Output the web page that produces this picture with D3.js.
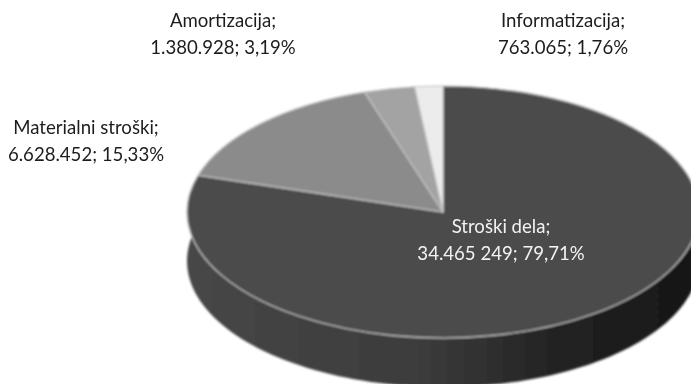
<!DOCTYPE html>
<html><head><meta charset="utf-8">
<script src="https://cdn.jsdelivr.net/npm/d3@7/dist/d3.min.js"></script>
<style>html,body{margin:0;background:#fff}svg{display:block}text{font-family:Lato,"Open Sans",sans-serif;font-size:18.6px}</style>
</head><body><svg width="691" height="384"></svg>
<script>
const categories = ["Stroški dela", "Materialni stroški", "Amortizacija", "Informatizacija"];
const values = [34465249, 6628452, 1380928, 763065];
const labelLine2 = ["34.465 249; 79,71%", "6.628.452; 15,33%", "1.380.928; 3,19%", "763.065; 1,76%"];
const fills = ["#4c4c4c", "#8b8b8b", "#a3a3a3", "#ececec"];
const textColors = ["#f2f2f2", "#1c1c1c", "#1c1c1c", "#1c1c1c"];
const labelAnchors = [[501, 233], [86, 133.5], [223, 27], [563, 27]];

const svg = d3.select("svg");
const cx = 443, cy = 212, rx = 256, ry = 126, depth = 49;
const defs = svg.append("defs");
defs.append("filter").attr("id","soft").append("feGaussianBlur").attr("stdDeviation",0.8);
defs.append("filter").attr("id","softText").append("feGaussianBlur").attr("stdDeviation",0.45);
const grad = defs.append("linearGradient").attr("id","side");
grad.append("stop").attr("offset","0").attr("stop-color","#474747");
grad.append("stop").attr("offset","0.45").attr("stop-color","#3c3c3c");
grad.append("stop").attr("offset","0.72").attr("stop-color","#232323");
grad.append("stop").attr("offset","1").attr("stop-color","#161616");

const pie = d3.pie().sort(null)(values);
const root = svg.append("g").attr("filter","url(#soft)");
const px = a => cx + rx * Math.sin(a), py = a => cy - ry * Math.cos(a);

// side wall
const side = d3.scaleLinear().domain([0,100]).range([Math.PI/2, pie[0].endAngle]);
const steps = d3.range(0,101).map(side);
const wall = d3.area().x(a=>px(a)).y0(a=>py(a)).y1(a=>py(a)+depth);
root.append("path").attr("d",wall(steps)).attr("fill","url(#side)");

// top face
const arc = d3.arc().innerRadius(0).outerRadius(rx);
const face = root.append("g").attr("transform",`translate(${cx},${cy}) scale(1,${ry/rx})`);
face.selectAll("path").data(pie).join("path")
  .attr("d",arc).attr("fill",(d,i)=>fills[i])
  .attr("stroke","#c4c4c4").attr("stroke-width",1.2).attr("vector-effect","non-scaling-stroke");

// labels
const lab = svg.append("g").attr("filter","url(#softText)")
  .selectAll("text.l").data(categories).join("text").attr("class","l")
  .attr("text-anchor","middle").attr("fill",(d,i)=>textColors[i]);
lab.append("tspan").attr("x",(d,i)=>labelAnchors[i][0]).attr("y",(d,i)=>labelAnchors[i][1]).text(d=>d+";");
lab.append("tspan").attr("x",(d,i)=>labelAnchors[i][0]).attr("y",(d,i)=>labelAnchors[i][1]+27).text((d,i)=>labelLine2[i]);
</script></body></html>
